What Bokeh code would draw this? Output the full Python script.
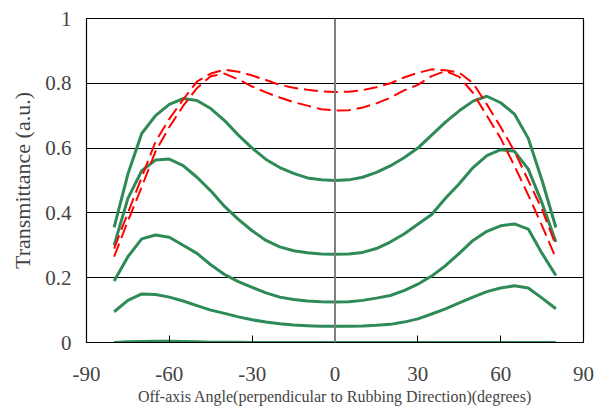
from bokeh.plotting import figure
from bokeh.models import FixedTicker, Span, Range1d
from bokeh.embed import file_html
from bokeh.resources import INLINE

# Off-axis angle samples (degrees)
angles = [-80, -75, -70, -65, -60, -55, -50, -45, -40, -35, -30, -25, -20, -15, -10, -5,
          0, 5, 10, 15, 20, 25, 30, 35, 40, 45, 50, 55, 60, 65, 70, 75, 80]

# Green (solid) transmittance curves
green_1 = [0.355, 0.52, 0.645, 0.70, 0.735, 0.753, 0.747, 0.722, 0.685, 0.64, 0.60, 0.565, 0.54, 0.522, 0.508, 0.502,
           0.50, 0.502, 0.51, 0.525, 0.545, 0.57, 0.60, 0.64, 0.68, 0.715, 0.745, 0.76, 0.74, 0.705, 0.63, 0.50, 0.355]
green_2 = [0.30, 0.445, 0.53, 0.563, 0.566, 0.546, 0.51, 0.468, 0.42, 0.38, 0.345, 0.315, 0.295, 0.283, 0.277, 0.273,
           0.272, 0.273, 0.278, 0.29, 0.31, 0.335, 0.365, 0.395, 0.445, 0.49, 0.54, 0.577, 0.595, 0.59, 0.535, 0.43, 0.31]
green_3 = [0.19, 0.265, 0.32, 0.332, 0.325, 0.30, 0.275, 0.24, 0.21, 0.188, 0.17, 0.153, 0.14, 0.133, 0.128, 0.126,
           0.125, 0.126, 0.13, 0.137, 0.145, 0.16, 0.18, 0.205, 0.237, 0.275, 0.315, 0.343, 0.36, 0.366, 0.35, 0.275, 0.207]
green_4 = [0.095, 0.13, 0.15, 0.148, 0.14, 0.128, 0.114, 0.10, 0.09, 0.079, 0.07, 0.063, 0.058, 0.054, 0.052, 0.05,
           0.05, 0.05, 0.051, 0.053, 0.056, 0.063, 0.073, 0.088, 0.104, 0.122, 0.14, 0.157, 0.168, 0.175, 0.168, 0.137, 0.104]
green_5 = [0.0, 0.002, 0.003, 0.004, 0.004, 0.003, 0.002, 0.001, 0.001, 0.001, 0.0, 0.0, 0.0, 0.0, 0.0, 0.0,
           0.0, 0.0, 0.0, 0.0, 0.0, 0.0, 0.0, 0.0, 0.0, 0.0, 0.0, 0.0, 0.0, 0.0, 0.0, 0.0, 0.0]

# Red (dashed) transmittance curves
red_1 = [0.29, 0.40, 0.51, 0.62, 0.69, 0.75, 0.805, 0.83, 0.842, 0.836, 0.824, 0.81, 0.795, 0.786, 0.78, 0.775,
         0.773, 0.774, 0.779, 0.788, 0.80, 0.818, 0.832, 0.843, 0.84, 0.833, 0.80, 0.735, 0.665, 0.59, 0.50, 0.41, 0.30]
red_2 = [0.265, 0.375, 0.48, 0.59, 0.665, 0.73, 0.785, 0.822, 0.83, 0.812, 0.79, 0.772, 0.756, 0.742, 0.731, 0.72,
         0.716, 0.717, 0.725, 0.738, 0.755, 0.778, 0.795, 0.822, 0.838, 0.82, 0.77, 0.70, 0.63, 0.545, 0.455, 0.36, 0.26]

x_ticks = [-90, -60, -30, 0, 30, 60, 90]
x_tick_labels = ["-90", "-60", "-30", "0", "30", "60", "90"]
y_ticks = [0, 0.2, 0.4, 0.6, 0.8, 1.0]
y_tick_labels = ["0", "0.2", "0.4", "0.6", "0.8", "1"]

FONT = "Liberation Serif"
GREEN = "#2E8B57"
RED = "#FF0000"

p = figure(width=595, height=408, output_backend="svg", toolbar_location=None,
           x_range=Range1d(-90, 90), y_range=Range1d(0, 1),
           min_border_left=86, min_border_right=12, min_border_top=18, min_border_bottom=66)

p.background_fill_color = "white"
p.border_fill_color = "white"
p.outline_line_color = "black"
p.outline_line_width = 1.2

# x axis
p.xaxis.ticker = FixedTicker(ticks=x_ticks)
p.xaxis.major_label_overrides = {t: l for t, l in zip(x_ticks, x_tick_labels)}
p.xaxis.axis_label = "Off-axis Angle(perpendicular to Rubbing Direction)(degrees)"
p.xaxis.axis_label_text_font = FONT
p.xaxis.axis_label_text_font_style = "normal"
p.xaxis.axis_label_text_font_size = "16px"
p.xaxis.axis_label_standoff = 4
p.xaxis.major_label_text_font = FONT
p.xaxis.major_label_text_font_size = "21px"
p.xaxis.major_label_standoff = 24
p.xaxis.major_tick_in = 7
p.xaxis.major_tick_out = 0
p.xaxis.minor_tick_line_color = None
p.xaxis.axis_line_color = "black"
p.xaxis.major_tick_line_color = "black"

# y axis
p.yaxis.ticker = FixedTicker(ticks=y_ticks)
p.yaxis.major_label_overrides = {t: l for t, l in zip(y_ticks, y_tick_labels)}
p.yaxis.axis_label = "Transmittance (a.u.)"
p.yaxis.axis_label_text_font = FONT
p.yaxis.axis_label_text_font_style = "normal"
p.yaxis.axis_label_text_font_size = "22px"
p.yaxis.axis_label_standoff = 7
p.yaxis.major_label_text_font = FONT
p.yaxis.major_label_text_font_size = "21px"
p.yaxis.major_label_standoff = 15
p.yaxis.major_tick_in = 0
p.yaxis.major_tick_out = 0
p.yaxis.major_tick_line_color = None
p.yaxis.minor_tick_line_color = None
p.yaxis.axis_line_color = "black"

# grid
p.xgrid.grid_line_color = None
p.ygrid.grid_line_color = "black"
p.ygrid.grid_line_width = 1
p.ygrid.ticker = FixedTicker(ticks=y_ticks)

# center vertical axis line at x=0
p.add_layout(Span(location=0, dimension="height", line_color="#808080", line_width=2))

for ys in [green_1, green_2, green_3, green_4, green_5]:
    p.line(angles, ys, line_color=GREEN, line_width=3)

for ys in [red_1, red_2]:
    p.line(angles, ys, line_color=RED, line_width=2, line_dash="14 6")

open("out.html", "w").write(file_html(p, INLINE))
